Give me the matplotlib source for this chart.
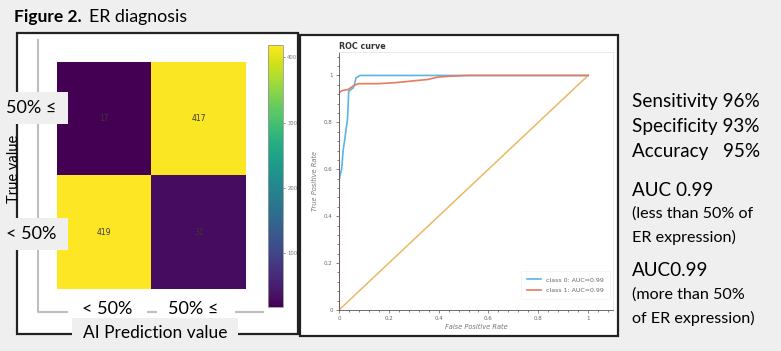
import numpy as np
import matplotlib
matplotlib.use("Agg")
import matplotlib.pyplot as plt
from matplotlib.patches import Rectangle
from matplotlib.lines import Line2D
from matplotlib.ticker import MultipleLocator

# confusion matrix (rows: true 50%<=, <50% ; cols: pred <50%, 50%<=)
cm_values = [[17, 417],
             [419, 31]]
pred_labels = ["< 50%", "50% \u2264"]
true_labels = ["50% \u2264", "< 50%"]
cbar_ticks = [100, 200, 300, 400]

# ROC curves
fpr_class0 = [0, 0, 0.001, 0.011, 0.017, 0.023, 0.030, 0.034, 0.036, 0.039, 0.057, 0.064, 0.068, 0.084, 0.3, 1.0]
tpr_class0 = [0, 0.5, 0.556, 0.605, 0.684, 0.726, 0.783, 0.812, 0.855, 0.933, 0.947, 0.969, 0.99, 1.0, 1.0, 1.0]
fpr_class1 = [0, 0, 0.011, 0.036, 0.057, 0.077, 0.157, 0.224, 0.29, 0.357, 0.397, 0.45, 0.517, 1.0]
tpr_class1 = [0, 0.926, 0.935, 0.94, 0.955, 0.965, 0.965, 0.969, 0.976, 0.983, 0.993, 0.997, 1.0, 1.0]
auc_class0 = 0.99
auc_class1 = 0.99

stats_lines = ["Sensitivity 96%", "Specificity 93%", "Accuracy   95%"]
auc_lines_0 = ["AUC 0.99", "(less than 50% of", "ER expression)"]
auc_lines_1 = ["AUC0.99", "(more than 50%", "of ER expression)"]

W, H = 781, 351
BG = "#efefef"
plt.rcParams['font.family'] = ['Lato', 'DejaVu Sans']

fig = plt.figure(figsize=(W / 100, H / 100), dpi=100, facecolor=BG)


def fx(px):
    return px / W


def fy(py):
    return 1 - py / H


def rect(x0, y0, x1, y1, face, edge="none", lw=0, z=0):
    fig.add_artist(Rectangle((fx(x0), fy(y1)), fx(x1 - x0), (y1 - y0) / H,
                             transform=fig.transFigure, facecolor=face,
                             edgecolor=edge, lw=lw, zorder=z))


# panel frames
rect(17, 33, 298, 334, "white", "#222222", 1.6)
rect(300, 35, 618, 336, "white", "#222222", 1.6)

# title
fig.text(fx(14), fy(17), "Figure 2.", fontsize=12.5, fontweight="bold", va="center", ha="left")
fig.text(fx(89), fy(17), "ER diagnosis", fontsize=12.8, va="center", ha="left")

# gray L frame around confusion matrix
fig.add_artist(Line2D([fx(38), fx(38), fx(263)], [fy(40), fy(312), fy(312)],
                      transform=fig.transFigure, color="#bdbdbd", lw=1.5, zorder=0.5))

# confusion matrix heatmap
ax = fig.add_axes([fx(57), fy(289), fx(246 - 57), (289 - 62) / H])
im = ax.imshow(np.array(cm_values), cmap="viridis", vmin=17, vmax=419, aspect="auto")
for i in range(2):
    for j in range(2):
        ax.text(j, i, str(cm_values[i][j]), ha="center", va="center", fontsize=5.5,
                color="#3a3a3a", family="DejaVu Sans")
ax.set_xticks([])
ax.set_yticks([])
for s in ax.spines.values():
    s.set_visible(False)

cax = fig.add_axes([fx(268), fy(307), fx(15), (307 - 45) / H])
cb = fig.colorbar(im, cax=cax, ticks=cbar_ticks)
cb.outline.set_edgecolor("#999999")
cb.outline.set_linewidth(0.6)
cax.tick_params(labelsize=3.8, labelcolor="#777777", length=1.5, width=0.5, color="#555555", pad=1.5)
for t in cax.get_yticklabels():
    t.set_family("DejaVu Sans")

# big category labels with gray boxes
rect(0, 92, 68, 124, BG, z=2)
rect(0, 218, 68, 250, BG, z=2)
rect(72, 318, 238, 351, BG, z=2)
rect(68, 300, 147, 320, "white", z=1)
rect(157, 300, 235, 320, "white", z=1)
fig.text(fx(31), fy(108), true_labels[0], fontsize=13, ha="center", va="center", zorder=3)
fig.text(fx(31), fy(234), true_labels[1], fontsize=13, ha="center", va="center", zorder=3)
fig.text(fx(14), fy(169), "True value", fontsize=10.5, rotation=90, ha="center", va="center")
fig.text(fx(107), fy(309), pred_labels[0], fontsize=13, ha="center", va="center", zorder=3)
fig.text(fx(193), fy(309), pred_labels[1], fontsize=13, ha="center", va="center", zorder=3)
fig.text(fx(155), fy(333), "AI Prediction value", fontsize=12.5, ha="center", va="center", zorder=3)

# ROC curve
rx = fig.add_axes([fx(339), fy(310), fx(613 - 339), (310 - 52) / H])
rx.plot([0, 1], [0, 1], color="#e9b964", lw=1.1)
rx.plot(fpr_class0, tpr_class0, color="#5bb5e3", lw=1.2, label=f"class 0: AUC={auc_class0}")
rx.plot(fpr_class1, tpr_class1, color="#e87a5e", lw=1.2, label=f"class 1: AUC={auc_class1}")
rx.set_xlim(0, 1.1)
rx.set_ylim(0, 1.1)
rx.set_xticks([0, 0.2, 0.4, 0.6, 0.8, 1])
rx.set_yticks([0, 0.2, 0.4, 0.6, 0.8, 1])
rx.set_xticklabels(["0", "0.2", "0.4", "0.6", "0.8", "1"])
rx.set_yticklabels(["0", "0.2", "0.4", "0.6", "0.8", "1"])
rx.xaxis.set_minor_locator(MultipleLocator(0.04))
rx.yaxis.set_minor_locator(MultipleLocator(0.04))
rx.tick_params(labelsize=4, labelcolor="#666666", length=2.5, width=0.5, color="#555555", pad=2)
rx.tick_params(which="minor", length=1.5, width=0.5, color="#555555")
for t in rx.get_xticklabels() + rx.get_yticklabels():
    t.set_family("DejaVu Sans")
for side in ["top", "right"]:
    rx.spines[side].set_color("#e6e6e6")
    rx.spines[side].set_linewidth(0.6)
for side in ["left", "bottom"]:
    rx.spines[side].set_color("#555555")
    rx.spines[side].set_linewidth(0.6)
rx.set_xlabel("False Positive Rate", fontsize=4.8, style="italic", color="#777777",
              family="DejaVu Sans", labelpad=2)
rx.set_ylabel("True Positive Rate", fontsize=4.8, style="italic", color="#777777",
              family="DejaVu Sans", labelpad=4)
rx.set_title("ROC curve", fontsize=5.8, fontweight="bold", loc="left", family="DejaVu Sans",
             color="#333333", pad=2, x=0.0)
leg = rx.legend(loc="lower right", frameon=True, handlelength=2.2, borderpad=1.0,
                labelspacing=0.8, prop={"family": "DejaVu Sans", "size": 4.5},
                bbox_to_anchor=(1.0, 0.03))
leg.get_frame().set_edgecolor("#eeeeee")
leg.get_frame().set_linewidth(0.5)
for t in leg.get_texts():
    t.set_color("#666666")

# metrics text
for k, line in enumerate(stats_lines):
    fig.text(fx(632), fy(101 + 25.5 * k), line, fontsize=13.6, ha="left", va="center")
for k, line in enumerate(auc_lines_0):
    fs = 13.6 if line.startswith("AUC") else 11.6
    fig.text(fx(632), fy(190 + 23.5 * k), line, fontsize=fs, ha="left", va="center")
for k, line in enumerate(auc_lines_1):
    fs = 13.6 if line.startswith("AUC") else 11.6
    fig.text(fx(632), fy(271 + 23.5 * k), line, fontsize=fs, ha="left", va="center")

fig.savefig("out.png", dpi=100, facecolor=BG)
